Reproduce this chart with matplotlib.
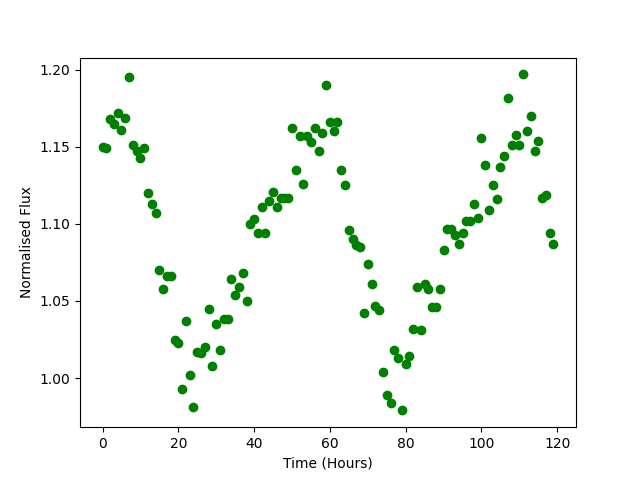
import matplotlib
matplotlib.use('Agg')
import matplotlib.pyplot as plt
import numpy as np

# Hourly observations
hours = np.arange(120)

# Normalised flux, one value per hour
flux = [
    1.150, 1.149, 1.168, 1.165, 1.172, 1.161, 1.169, 1.195, 1.151, 1.147,
    1.143, 1.149, 1.120, 1.113, 1.107, 1.070, 1.058, 1.066, 1.066, 1.025,
    1.023, 0.993, 1.037, 1.002, 0.981, 1.017, 1.016, 1.020, 1.045, 1.008,
    1.035, 1.018, 1.038, 1.038, 1.064, 1.054, 1.059, 1.068, 1.050, 1.100,
    1.103, 1.094, 1.111, 1.094, 1.115, 1.121, 1.111, 1.117, 1.117, 1.117,
    1.162, 1.135, 1.157, 1.126, 1.157, 1.153, 1.162, 1.147, 1.159, 1.190,
    1.166, 1.160, 1.166, 1.135, 1.125, 1.096, 1.090, 1.086, 1.085, 1.042,
    1.074, 1.061, 1.047, 1.044, 1.004, 0.989, 0.984, 1.018, 1.013, 0.979,
    1.009, 1.014, 1.032, 1.059, 1.031, 1.061, 1.058, 1.046, 1.046, 1.058,
    1.083, 1.097, 1.097, 1.093, 1.087, 1.094, 1.102, 1.102, 1.113, 1.104,
    1.156, 1.138, 1.109, 1.125, 1.116, 1.137, 1.144, 1.182, 1.151, 1.158,
    1.151, 1.197, 1.160, 1.170, 1.147, 1.154, 1.117, 1.119, 1.094, 1.087,
]

fig, ax = plt.subplots(figsize=(6.4, 4.8), dpi=100)
ax.plot(hours, flux, 'o', color='green')

ax.set_xlabel('Time (Hours)')
ax.set_ylabel('Normalised Flux')

fig.savefig('out.png')
